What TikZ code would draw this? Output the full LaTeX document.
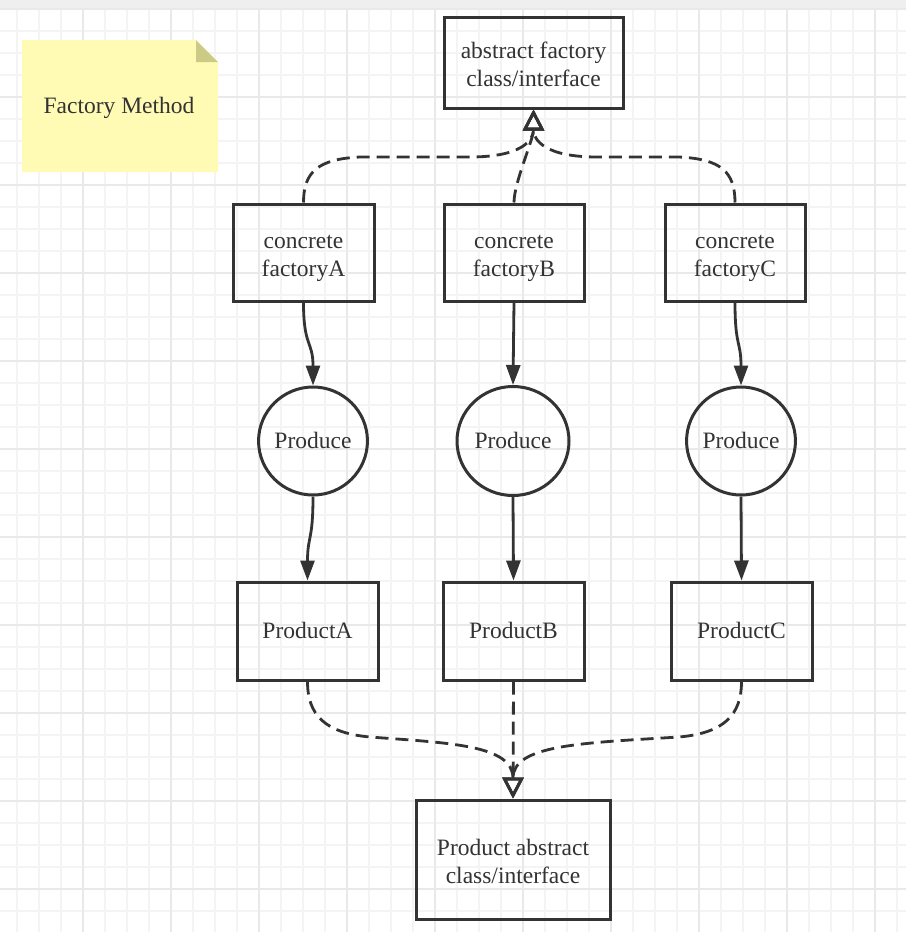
\documentclass[tikz,border=0pt]{standalone}
\usepackage{fontspec}
\setmainfont{Liberation Serif}
\usetikzlibrary{arrows.meta,shapes.geometric}
\definecolor{ink}{HTML}{333333}
\definecolor{minorg}{HTML}{F4F4F4}
\definecolor{majorg}{HTML}{E9E9E9}
\definecolor{band}{HTML}{EFEFEF}
\definecolor{notefill}{HTML}{FFFBB5}
\definecolor{foldfill}{HTML}{CCCA84}
\newcommand{\twolines}[2]{\begin{tabular}[t]{@{}c@{}}#1\\#2\end{tabular}}
\begin{document}
\begin{tikzpicture}[x=1pt,y=-1pt,
  every node/.style={font=\fontsize{23.5}{28}\selectfont, text=ink, text height=20.7pt, text depth=5.4pt},
  twoline/.style={text height=18pt, text depth=26.2pt},
  box/.style={draw=ink, line width=3pt, rectangle, inner sep=0pt},
  produce/.style={draw=ink, line width=3pt, ellipse, inner sep=0pt},
  flow/.style={draw=ink, line width=2.8pt, -{Triangle[length=20pt,width=14pt]}},
  realize/.style={draw=ink, line width=2.8pt, dash pattern=on 13pt off 7pt, -{Triangle[open,length=21pt,width=21pt]}},
  minorline/.style={draw=minorg, line width=2pt},
  majorline/.style={draw=majorg, line width=2pt},
]
\useasboundingbox (0,0) rectangle (906,932);
\fill[white] (0,0) rectangle (906,932);
% grid
\foreach \i in {1,...,41} {\draw[minorline] ({-5.3+22*\i},8) -- ({-5.3+22*\i},932);}
\foreach \j in {1,...,41} {\draw[minorline] (0,{9+22*\j}) -- (906,{9+22*\j});}
\foreach \i in {4,8,...,40} {\draw[majorline] ({-5.3+22*\i},8) -- ({-5.3+22*\i},932);}
\foreach \j in {0,4,...,40} {\draw[majorline] (0,{9+22*\j}) -- (906,{9+22*\j});}
\fill[band] (0,0) rectangle (906,8);
% note
\fill[notefill] (22,40) -- (196,40) -- (218,62) -- (218,172) -- (22,172) -- cycle;
\fill[foldfill] (196,40) -- (218,62) -- (196,62) -- cycle;
\node (note) at (119,106) {Factory Method};
% nodes
\node[box, twoline, minimum width=179pt, minimum height=91pt] (absF) at (533.5,62.5) {\twolines{abstract factory}{class/interface}};
\node[box, twoline, minimum width=141pt, minimum height=97pt] (cfA) at (303.5,252.5) {\twolines{concrete}{factoryA}};
\node[box, twoline, minimum width=140pt, minimum height=97pt] (cfB) at (514,252.5) {\twolines{concrete}{factoryB}};
\node[box, twoline, minimum width=140pt, minimum height=97pt] (cfC) at (735,252.5) {\twolines{concrete}{factoryC}};
\node[produce, minimum width=108pt, minimum height=108pt] (prA) at (313,441) {Produce};
\node[produce, minimum width=112pt, minimum height=109pt] (prB) at (513,441) {Produce};
\node[produce, minimum width=108pt, minimum height=108pt] (prC) at (741,441) {Produce};
\node[box, minimum width=141pt, minimum height=98pt] (pA) at (307.5,631) {ProductA};
\node[box, minimum width=141pt, minimum height=98pt] (pB) at (513.5,631) {ProductB};
\node[box, minimum width=141pt, minimum height=98pt] (pC) at (741.5,631) {ProductC};
\node[box, twoline, minimum width=194pt, minimum height=119pt] (pAbs) at (513,859.5) {\twolines{Product abstract}{class/interface}};
% realization (dashed) arrows to abstract factory
\draw[realize] (cfA.north) .. controls (303.5,172) and (318,159) .. (360,157) -- (470,157) .. controls (522,157) and (533.5,140) .. (absF.south);
\draw[realize] (cfC.north) .. controls (735,172) and (721,159) .. (679,157) -- (597,157) .. controls (545,157) and (533.5,140) .. (absF.south);
\draw[realize] (cfB.north) .. controls +(0,-20) and +(0,30) .. (absF.south);
% produce flows
\draw[flow] (cfA.south) .. controls +(0,45) and +(0,-45) .. (prA.north);
\draw[flow] (cfB.south) -- (prB.north);
\draw[flow] (cfC.south) .. controls +(0,45) and +(0,-45) .. (prC.north);
\draw[flow] (prA.south) .. controls +(0,45) and +(0,-45) .. (pA.north);
\draw[flow] (prB.south) -- (pB.north);
\draw[flow] (prC.south) -- (pC.north);
% realization to product abstract
\draw[realize] (pA.south) .. controls (307.5,715) and (325,733) .. (370,737) .. controls (450,743) and (513,745) .. (pAbs.north);
\draw[realize] (pC.south) .. controls (741.5,715) and (724,733) .. (679,737) .. controls (580,743) and (513,745) .. (pAbs.north);
\draw[realize] (pB.south) -- (pAbs.north);
\end{tikzpicture}
\end{document}
